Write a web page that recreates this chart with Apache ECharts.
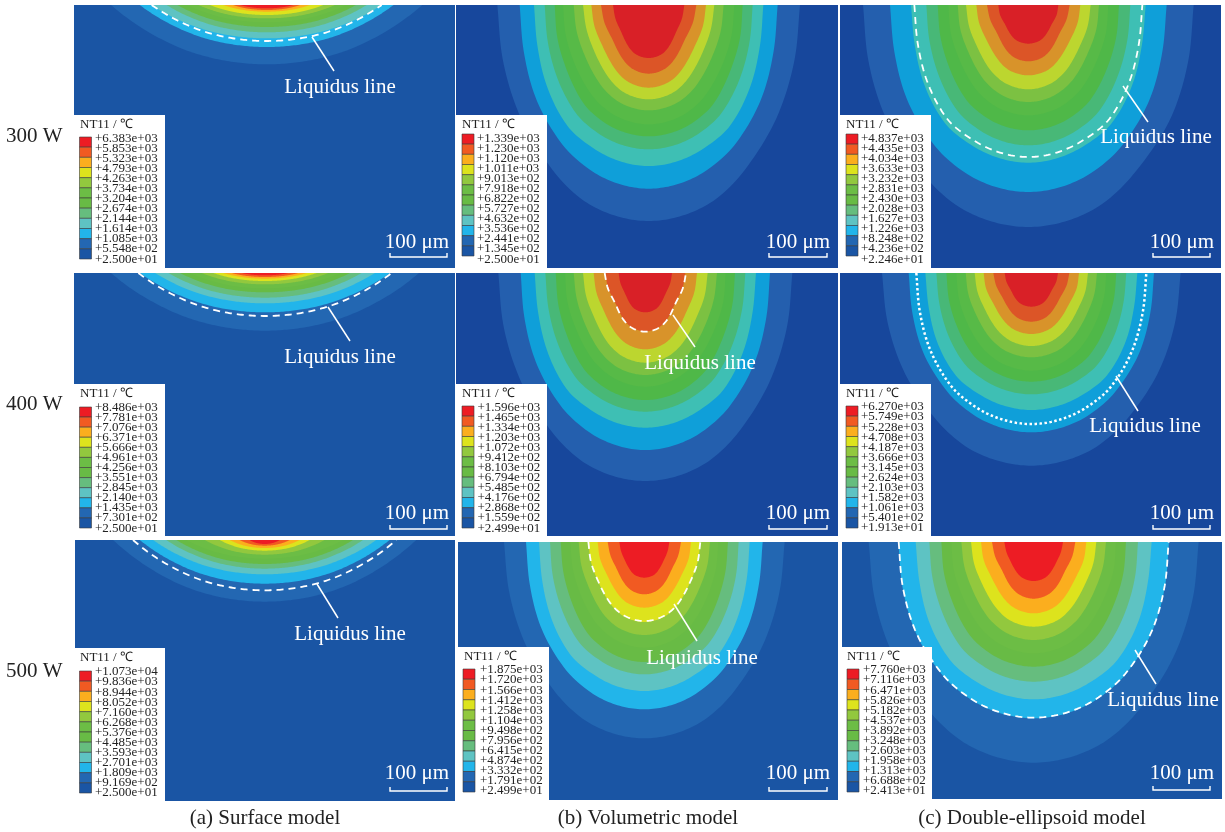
<!DOCTYPE html>
<html><head><meta charset="utf-8">
<style>html,body{margin:0;padding:0;background:#fff}#c{width:1225px;height:832px}</style>
<script src="https://cdn.jsdelivr.net/npm/echarts@6/dist/echarts.min.js"></script>
</head><body><div id="c"></div>
<script>
// Contour readings, outer band to inner band. Units: 3 units = 1 image pixel; 170 units = 100 um.
// Each row: [depth, half-width at surface, at 25%, 50%, 75%, 90% of depth]
const surface300 = [[178,467,411,341,248,159],[126,381,335,278,202,130],[100,345,304,252,183,117],[82,300,264,219,159,102],[66,268,236,196,142,91],[52,238,209,174,126,81],[40,205,180,150,109,70],[30,170,150,124,90,58],[20,130,114,95,69,44],[15,100,88,73,53,34],[10,80,70,58,42,27]];
const surface400 = [[173,462,407,337,245,157],[118,375,330,274,199,128],[91,330,290,241,175,112],[74,290,255,212,154,99],[58,255,224,186,135,87],[46,225,198,164,119,77],[34,190,167,139,101,65],[24,155,136,113,82,53],[17,125,110,91,66,43],[12,100,88,73,53,34],[7,70,62,51,37,24]];
const surface500 = [[185,455,400,332,241,155],[131,375,330,274,199,128],[103,335,295,245,178,114],[86,295,260,215,156,100],[72,265,233,193,140,90],[56,235,207,172,125,80],[44,180,158,131,95,61],[32,135,119,99,72,46],[24,105,92,77,56,36],[17,75,66,55,40,26],[12,45,40,33,24,15]];
const volumetric300 = [[648,454,438,390,295,200],[551,387,375,340,263,174],[483,344,334,306,244,158],[433,312,303,275,218,144],[394,282,274,245,195,130],[358,257,249,221,172,116],[316,225,216,189,146,99],[283,197,187,162,124,85],[248,172,163,138,105,72],[206,143,133,109,83,57],[159,107,100,83,64,45]];
const volumetric400 = [[624,441,426,379,287,194],[531,374,363,329,254,168],[464,332,322,295,236,153],[416,300,291,264,210,138],[381,269,261,234,186,124],[341,241,234,207,161,108],[306,215,206,181,140,95],[269,187,178,153,118,80],[229,155,147,124,95,65],[175,120,112,91,70,48],[118,80,75,62,48,34]];
const volumetric500 = [[589,421,406,362,274,185],[502,355,344,312,241,160],[447,316,307,281,224,145],[397,283,275,249,198,130],[360,251,243,218,173,115],[317,222,215,191,149,100],[279,197,189,165,128,87],[240,168,160,138,106,72],[197,140,133,112,85,59],[157,110,102,84,64,44],[107,75,70,59,45,32]];
const ellipsoid300 = [[666,496,480,430,322,218],[561,415,402,365,282,187],[473,352,341,313,250,162],[421,306,297,269,214,141],[376,272,264,237,188,125],[331,240,233,206,161,108],[291,212,204,178,138,93],[253,187,178,153,118,80],[211,156,148,125,95,66],[169,124,115,94,72,50],[116,90,85,70,54,38]];
const ellipsoid400 = [[578,448,432,385,291,197],[478,368,357,324,250,166],[411,318,308,283,226,146],[364,285,276,251,200,131],[326,255,247,222,176,117],[293,225,218,194,151,101],[253,197,189,165,128,87],[219,170,162,139,107,73],[183,143,136,114,87,60],[146,114,106,87,66,46],[101,80,75,62,48,34]];
const ellipsoid500 = [[662,495,478,426,322,218],[529,406,394,357,276,183],[472,354,343,315,251,163],[419,313,304,275,219,144],[374,277,269,241,191,127],[334,247,240,212,165,111],[294,217,208,182,141,95],[254,188,179,154,118,81],[214,158,150,126,96,66],[170,125,116,95,73,50],[117,88,82,69,53,37]];
// Liquidus lines, same row format
const liquidusA1 = [108,345,303,252,183,117];
const liquidusA2 = [129,380,334,277,201,129];
const liquidusA3 = [151,395,348,288,209,134];
const liquidusB2 = [176,122,113,92,71,49];
const liquidusB3 = [237,168,160,138,106,72];
const liquidusC1 = [456,342,332,304,243,157];
const liquidusC2 = [453,345,335,305,240,158];
const liquidusC3 = [527,405,393,356,275,182];
// Legend tick labels
const labelsA1 = ['+6.383e+03','+5.853e+03','+5.323e+03','+4.793e+03','+4.263e+03','+3.734e+03','+3.204e+03','+2.674e+03','+2.144e+03','+1.614e+03','+1.085e+03','+5.548e+02','+2.500e+01'];
const labelsB1 = ['+1.339e+03','+1.230e+03','+1.120e+03','+1.011e+03','+9.013e+02','+7.918e+02','+6.822e+02','+5.727e+02','+4.632e+02','+3.536e+02','+2.441e+02','+1.345e+02','+2.500e+01'];
const labelsC1 = ['+4.837e+03','+4.435e+03','+4.034e+03','+3.633e+03','+3.232e+03','+2.831e+03','+2.430e+03','+2.028e+03','+1.627e+03','+1.226e+03','+8.248e+02','+4.236e+02','+2.246e+01'];
const labelsA2 = ['+8.486e+03','+7.781e+03','+7.076e+03','+6.371e+03','+5.666e+03','+4.961e+03','+4.256e+03','+3.551e+03','+2.845e+03','+2.140e+03','+1.435e+03','+7.301e+02','+2.500e+01'];
const labelsB2 = ['+1.596e+03','+1.465e+03','+1.334e+03','+1.203e+03','+1.072e+03','+9.412e+02','+8.103e+02','+6.794e+02','+5.485e+02','+4.176e+02','+2.868e+02','+1.559e+02','+2.499e+01'];
const labelsC2 = ['+6.270e+03','+5.749e+03','+5.228e+03','+4.708e+03','+4.187e+03','+3.666e+03','+3.145e+03','+2.624e+03','+2.103e+03','+1.582e+03','+1.061e+03','+5.401e+02','+1.913e+01'];
const labelsA3 = ['+1.073e+04','+9.836e+03','+8.944e+03','+8.052e+03','+7.160e+03','+6.268e+03','+5.376e+03','+4.485e+03','+3.593e+03','+2.701e+03','+1.809e+03','+9.169e+02','+2.500e+01'];
const labelsB3 = ['+1.875e+03','+1.720e+03','+1.566e+03','+1.412e+03','+1.258e+03','+1.104e+03','+9.498e+02','+7.956e+02','+6.415e+02','+4.874e+02','+3.332e+02','+1.791e+02','+2.499e+01'];
const labelsC3 = ['+7.760e+03','+7.116e+03','+6.471e+03','+5.826e+03','+5.182e+03','+4.537e+03','+3.892e+03','+3.248e+03','+2.603e+03','+1.958e+03','+1.313e+03','+6.688e+02','+2.413e+01'];
const powerLabels = ['300 W','400 W','500 W'];
const captions = ['(a) Surface model','(b) Volumetric model','(c) Double-ellipsoid model'];

// ---- styling and layout ----
const FONT = '"Liberation Serif","Times New Roman",serif';
const depthFractions = [0,0.25,0.5,0.75,0.9,1];
const bright = ['#2367b2','#22b5ea','#5ec3c3','#66bd7e','#68bb45','#6cbd45','#92c83e','#dde31d','#fbae1e','#f15a22','#ed1c24'];
const dark = ['#245fae','#0f9fd9','#3ebfb4','#48b877','#4fb848','#57ba47','#7cc142','#bcd62f','#d8932a','#dc5527','#d92027'];
const brightBg = '#1a55a4', darkBg = '#17479c';
const legendColors = ['#ed1c24','#f15a22','#fbae1e','#dde31d','#92c83e','#6cbd45','#68bb45','#66bd7e','#5ec3c3','#22b5ea','#2367b2','#1a55a4'];

const panels = [
 {bands:surface300,liq:liquidusA1,labels:labelsA1,pal:bright,bg:brightBg,left:74,top:5,w:381,h:263,center:578,box:[74,115,165,268],bar:[79.5,137,259],lx:95,ly:138.5,tx:80,ty:125,sb:[390,447,417,242,257],lead:[312,37,334,71,340,87]},
 {bands:volumetric300,liq:null,labels:labelsB1,pal:dark,bg:darkBg,left:456,top:5,w:382,h:263,center:578,box:[456,115,547,268],bar:[462,134,256],lx:477,ly:138.5,tx:462,ty:125,sb:[769,827,798,242,257]},
 {bands:ellipsoid300,liq:liquidusC1,labels:labelsC1,pal:dark,bg:darkBg,left:840,top:5,w:381,h:263,center:565,box:[840,115,931,268],bar:[846,134,256],lx:861,ly:138.5,tx:846,ty:125,sb:[1153,1210,1182,242,257],lead:[1123,86,1148,122,1156,137]},
 {bands:surface400,liq:liquidusA2,labels:labelsA2,pal:bright,bg:brightBg,left:74,top:273,w:381,h:263,center:573,box:[74,384,165,537],bar:[79.5,407,528],lx:95,ly:407.5,tx:80,ty:394,sb:[390,447,417,513,529],lead:[328,307,350,341,340,357]},
 {bands:volumetric400,liq:liquidusB2,labels:labelsB2,pal:dark,bg:darkBg,left:456,top:273,w:382,h:263,center:568,box:[456,384,547,537],bar:[462,406,528],lx:477.5,ly:407.5,tx:462,ty:394,sb:[769,827,798,513,529],lead:[673,315,695,347,700,363]},
 {bands:ellipsoid400,liq:liquidusC2,labels:labelsC2,pal:dark,bg:darkBg,left:840,top:273,w:381,h:263,center:574,box:[840,384,931,537],bar:[846,406,528],lx:861,ly:407,tx:846,ty:394,sb:[1153,1210,1182,513,529],lead:[1116,376,1138,411,1145,426],dotted:true},
 {bands:surface500,liq:liquidusA3,labels:labelsA3,pal:bright,bg:brightBg,left:75,top:540,w:380,h:261,center:569,box:[75,648,165,801],bar:[79.5,671,793],lx:95,ly:672,tx:80,ty:658,sb:[390,447,417,773,791],lead:[317,584,338,618,350,634]},
 {bands:volumetric500,liq:liquidusB3,labels:labelsB3,pal:bright,bg:brightBg,left:458,top:542,w:380,h:258,center:559,box:[458,647,549,800],bar:[463,669,792],lx:480,ly:670,tx:464,ty:657,sb:[769,827,798,773,791],lead:[674,604,697,641,702,658]},
 {bands:ellipsoid500,liq:liquidusC3,labels:labelsC3,pal:bright,bg:brightBg,left:842,top:542,w:380,h:257,center:575,box:[842,647,932,799],bar:[847,669,792],lx:863,ly:670,tx:847,ty:657,sb:[1153,1210,1182,773,790],lead:[1135,650,1156,684,1163,700]}
];

// Draw a round curve through a row's readings: a cubic through width^2 against depth,
// which keeps the bottom of the pool round.
function curve(r, overshoot){
  const d=r[0], xs=depthFractions, ys=r.slice(1).map(v=>v*v).concat([0]);
  const n=xs.length, m=[];
  for(let i=0;i<n;i++){
    m[i]= i===0 ? (ys[1]-ys[0])/(xs[1]-xs[0])
        : i===n-1 ? (ys[n-1]-ys[n-2])/(xs[n-1]-xs[n-2])
        : (ys[i+1]-ys[i-1])/(xs[i+1]-xs[i-1]);
  }
  const half=[];
  if(overshoot) half.push([Math.sqrt(Math.max(0,ys[0]-m[0]*0.15)), -0.15*d]);
  for(let i=0;i<n-1;i++){
    const h=xs[i+1]-xs[i], steps=(i===n-2)?24:10;
    for(let s=0;s<steps;s++){
      const t=(i===n-2)?1-Math.pow(1-s/steps,2):s/steps;
      const t2=t*t,t3=t2*t;
      const y=(2*t3-3*t2+1)*ys[i]+(t3-2*t2+t)*h*m[i]+(-2*t3+3*t2)*ys[i+1]+(t3-t2)*h*m[i+1];
      half.push([Math.sqrt(Math.max(0,y)), d*(xs[i]+t*h)]);
    }
  }
  const left=half.map(p=>[-p[0],p[1]]), right=half.slice().reverse();
  return left.concat([[0,d]],right);
}

const grid=[], xAxis=[], yAxis=[], series=[], elements=[];
panels.forEach((p,i)=>{
  grid.push({left:p.left,top:p.top,width:p.w,height:p.h,show:true,backgroundColor:p.bg,borderWidth:0});
  xAxis.push({type:'value',gridIndex:i,show:false,min:-p.center,max:p.w*3-p.center});
  yAxis.push({type:'value',gridIndex:i,show:false,inverse:true,min:0,max:p.h*3});
  series.push({
    type:'custom',xAxisIndex:i,yAxisIndex:i,clip:true,silent:true,animation:false,
    data:p.bands.map((r,k)=>[k]),encode:{x:0,y:0},
    renderItem:(params,api)=>{
      const k=params.dataIndex;
      return {type:'polygon',shape:{points:curve(p.bands[k],true).map(c=>api.coord(c))},style:{fill:p.pal[k]}};
    }
  });
  if(p.liq){
    series.push({type:'custom',xAxisIndex:i,yAxisIndex:i,clip:true,silent:true,animation:false,z:5,
      data:[[0]],encode:{x:0,y:0},
      renderItem:(params,api)=>({type:'polyline',shape:{points:curve(p.liq,false).map(c=>api.coord(c))},
        style:{fill:null,stroke:'#fff',lineWidth:p.dotted?2.5:1.8,lineDash:p.dotted?[2.5,2.5]:[7,5]}})
    });
  }
  // legend box
  const Z=50, b=p.box;
  elements.push({type:'rect',z:Z,shape:{x:b[0],y:b[1],width:b[2]-b[0],height:b[3]-b[1]},style:{fill:'#fff'}});
  elements.push({type:'text',z:Z+2,x:p.tx,y:p.ty,style:{text:'NT11 / ℃',font:'13px '+FONT,fill:'#222',textVerticalAlign:'middle'}});
  const segH=(p.bar[2]-p.bar[1])/12;
  legendColors.forEach((c,k)=>{
    elements.push({type:'rect',z:Z+1,shape:{x:p.bar[0],y:p.bar[1]+k*segH,width:12,height:segH},style:{fill:c,stroke:'#3a3a3a',lineWidth:0.6}});
  });
  p.labels.forEach((t,k)=>{
    elements.push({type:'text',z:Z+2,x:p.lx,y:p.ly+k*10.05,style:{text:t,font:'13px '+FONT,fill:'#222',textVerticalAlign:'middle'}});
  });
  // scale bar
  const s=p.sb;
  elements.push({type:'polyline',z:Z,shape:{points:[[s[0],s[4]-4],[s[0],s[4]],[s[1],s[4]],[s[1],s[4]-4]]},style:{stroke:'#fff',lineWidth:1.4,fill:null}});
  elements.push({type:'text',z:Z,x:s[2],y:s[3],style:{text:'100 μm',font:'21px '+FONT,fill:'#fff',textAlign:'center',textVerticalAlign:'middle'}});
  // leader + liquidus label
  if(p.lead){
    const l=p.lead;
    elements.push({type:'line',z:Z,shape:{x1:l[0],y1:l[1],x2:l[2],y2:l[3]},style:{stroke:'#fff',lineWidth:1.5}});
    elements.push({type:'text',z:Z,x:l[4],y:l[5],style:{text:'Liquidus line',font:'21px '+FONT,fill:'#fff',textAlign:'center',textVerticalAlign:'middle'}});
  }
});
const rowY=[136,404,671];
powerLabels.forEach((t,i)=>elements.push({type:'text',z:60,x:6,y:rowY[i],style:{text:t,font:'21px '+FONT,fill:'#222',textVerticalAlign:'middle'}}));
const capX=[265,648,1032];
captions.forEach((t,i)=>elements.push({type:'text',z:60,x:capX[i],y:818,style:{text:t,font:'21px '+FONT,fill:'#222',textAlign:'center',textVerticalAlign:'middle'}}));

const chart=echarts.init(document.getElementById('c'),null,{renderer:'canvas'});
chart.setOption({animation:false,backgroundColor:'#fff',grid,xAxis,yAxis,series,graphic:{elements}});
</script></body></html>
